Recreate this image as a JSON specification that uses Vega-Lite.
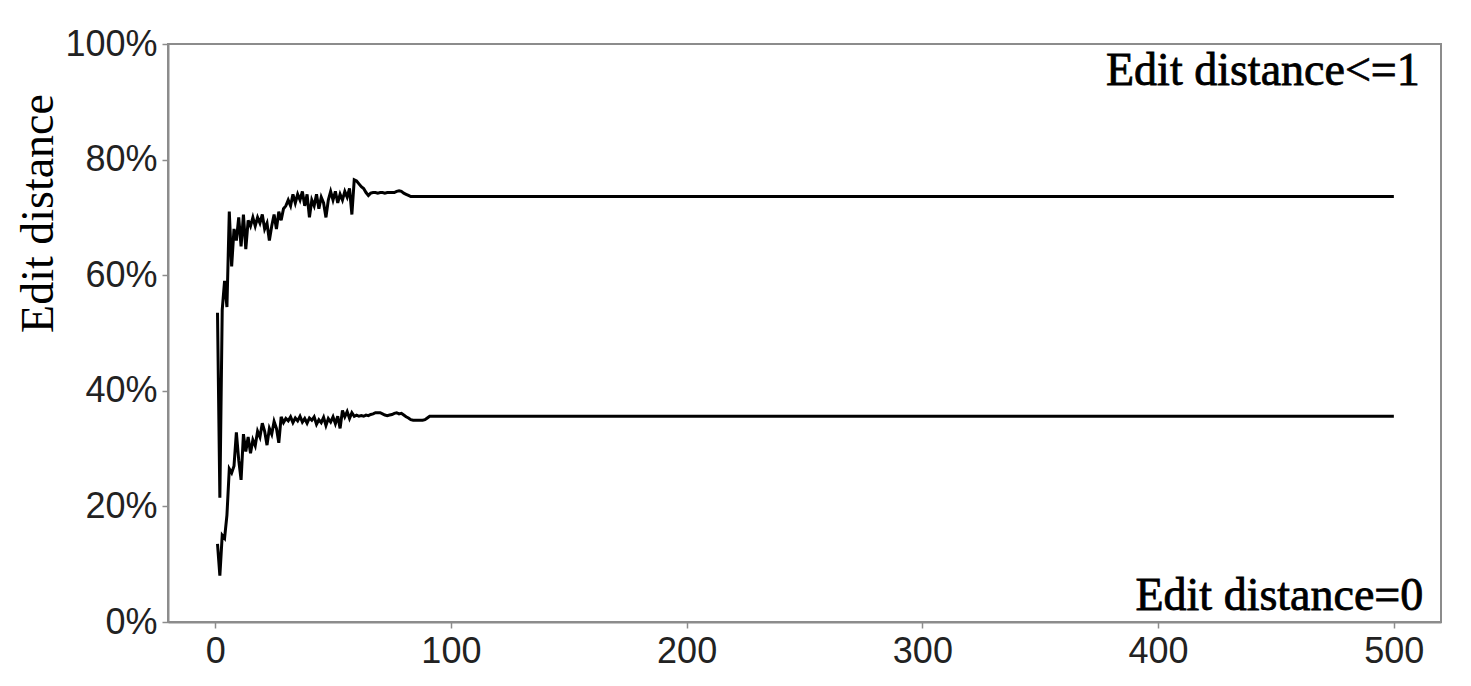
{
  "$schema": "https://vega.github.io/schema/vega-lite/v6.json",
  "width": 1273,
  "height": 578,
  "autosize": {"type": "none"},
  "padding": {"left": 168, "top": 44, "right": 30, "bottom": 64},
  "background": "white",
  "config": {
    "view": {"stroke": "#8c8c8c", "strokeWidth": 2},
    "axis": {"grid": false, "domainColor": "#8c8c8c", "domainWidth": 2, "tickColor": "#8c8c8c", "tickSize": 6, "tickWidth": 1.5,
      "labelFont": "Liberation Sans", "labelFontSize": 36, "labelColor": "#222222"}
  },
  "datasets": {
    "upper": [
      {"n":1,"v":53.5},{"n":2,"v":21.5},{"n":3,"v":54},{"n":4,"v":59},{"n":5,"v":54.5},{"n":6,"v":71},{"n":7,"v":61.5},{"n":8,"v":68},{"n":9,"v":66},{"n":10,"v":70},
      {"n":11,"v":65},{"n":12,"v":70.5},{"n":13,"v":64.5},{"n":14,"v":69.5},{"n":15,"v":68.5},{"n":16,"v":70},{"n":17,"v":68.5},{"n":18,"v":70},{"n":19,"v":69},{"n":20,"v":70.5},
      {"n":21,"v":68},{"n":22,"v":69},{"n":23,"v":66},{"n":24,"v":68.5},{"n":25,"v":70.5},{"n":26,"v":68},{"n":27,"v":71},{"n":28,"v":69.5},{"n":29,"v":71.5},{"n":30,"v":72},
      {"n":31,"v":73},{"n":32,"v":72},{"n":33,"v":74},{"n":34,"v":72.5},{"n":35,"v":74},{"n":36,"v":73},{"n":37,"v":74.5},{"n":38,"v":72},{"n":39,"v":74},{"n":40,"v":70},
      {"n":41,"v":73},{"n":42,"v":72},{"n":43,"v":74},{"n":44,"v":71.5},{"n":45,"v":73.5},{"n":46,"v":72.5},{"n":47,"v":70},{"n":48,"v":73},{"n":49,"v":74.5},{"n":50,"v":73},
      {"n":51,"v":74.5},{"n":52,"v":72.5},{"n":53,"v":74},{"n":54,"v":73},{"n":55,"v":74.5},{"n":56,"v":73.5},{"n":57,"v":75},{"n":58,"v":70.5},{"n":59,"v":76.5},{"n":60,"v":76.3},
      {"n":61,"v":75.8},{"n":62,"v":75.3},{"n":63,"v":75},{"n":64,"v":74.3},{"n":65,"v":73.8},{"n":66,"v":74.2},{"n":67,"v":74.3},{"n":68,"v":74.3},{"n":69,"v":74.2},{"n":70,"v":74.3},
      {"n":71,"v":74.3},{"n":72,"v":74.2},{"n":73,"v":74.3},{"n":74,"v":74.3},{"n":75,"v":74.3},{"n":76,"v":74.3},{"n":77,"v":74.5},{"n":78,"v":74.6},{"n":79,"v":74.5},{"n":80,"v":74.2},
      {"n":81,"v":74},{"n":82,"v":73.8},{"n":83,"v":73.6},{"n":500,"v":73.6}
    ],
    "lower": [
      {"n":1,"v":13.5},{"n":2,"v":8},{"n":3,"v":15},{"n":4,"v":14.5},{"n":5,"v":18.5},{"n":6,"v":26.5},{"n":7,"v":25.8},{"n":8,"v":27},{"n":9,"v":32.8},{"n":10,"v":28},
      {"n":11,"v":24.6},{"n":12,"v":32.5},{"n":13,"v":29.5},{"n":14,"v":32},{"n":15,"v":29.2},{"n":16,"v":31.5},{"n":17,"v":30.5},{"n":18,"v":33},{"n":19,"v":32},{"n":20,"v":34.4},
      {"n":21,"v":33},{"n":22,"v":30.6},{"n":23,"v":33.5},{"n":24,"v":32.5},{"n":25,"v":34.7},{"n":26,"v":33.5},{"n":27,"v":31},{"n":28,"v":35.5},{"n":29,"v":34.5},{"n":30,"v":35.2},
      {"n":31,"v":34.8},{"n":32,"v":35.5},{"n":33,"v":34.5},{"n":34,"v":35.3},{"n":35,"v":34.8},{"n":36,"v":35.6},{"n":37,"v":34.6},{"n":38,"v":35.2},{"n":39,"v":34.4},{"n":40,"v":35.3},
      {"n":41,"v":34.9},{"n":42,"v":35.5},{"n":43,"v":34.2},{"n":44,"v":35},{"n":45,"v":34.5},{"n":46,"v":35.4},{"n":47,"v":34},{"n":48,"v":35.2},{"n":49,"v":34.6},{"n":50,"v":35.5},
      {"n":51,"v":34.3},{"n":52,"v":35.6},{"n":53,"v":33.5},{"n":54,"v":36.6},{"n":55,"v":35.5},{"n":56,"v":36.4},{"n":57,"v":35.2},{"n":58,"v":36.2},{"n":59,"v":35.6},{"n":60,"v":35.8},
      {"n":61,"v":35.6},{"n":62,"v":35.7},{"n":63,"v":35.6},{"n":64,"v":35.8},{"n":65,"v":35.7},{"n":66,"v":35.9},{"n":67,"v":36},{"n":68,"v":36.2},{"n":69,"v":36.2},{"n":70,"v":36.2},
      {"n":71,"v":36},{"n":72,"v":35.8},{"n":73,"v":35.7},{"n":74,"v":35.8},{"n":75,"v":35.9},{"n":76,"v":36.1},{"n":77,"v":36.2},{"n":78,"v":36},{"n":79,"v":36.1},{"n":80,"v":35.8},
      {"n":81,"v":35.5},{"n":82,"v":35.3},{"n":83,"v":35},{"n":84,"v":34.9},{"n":85,"v":34.9},{"n":86,"v":34.9},{"n":87,"v":34.9},{"n":88,"v":34.9},{"n":89,"v":35},{"n":90,"v":35.3},
      {"n":91,"v":35.6},{"n":500,"v":35.6}
    ],
    "labels": [
      {"label":"Edit distance<=1","n":511,"v":92.9},
      {"label":"Edit distance=0","n":512.5,"v":2.1}
    ]
  },
  "layer": [
    {
      "data": {"name": "upper"},
      "mark": {"type": "line", "color": "black", "strokeWidth": 3},
      "encoding": {
        "x": {"field": "n", "type": "quantitative", "scale": {"domain": [-20, 520], "nice": false, "zero": false},
          "axis": {"values": [0, 100, 200, 300, 400, 500], "title": null, "labelPadding": 6}},
        "y": {"field": "v", "type": "quantitative", "scale": {"domain": [0, 100], "nice": false},
          "axis": {"values": [0, 20, 40, 60, 80, 100], "labelExpr": "datum.value + '%'", "labelPadding": 5,
            "title": "Edit distance", "titleFont": "Liberation Serif", "titleFontSize": 46, "titleFontWeight": "normal", "titleColor": "black",
            "titleAngle": 270, "titleX": -116, "titleY": 169, "titleAlign": "center", "titleBaseline": "alphabetic"}}
      }
    },
    {
      "data": {"name": "lower"},
      "mark": {"type": "line", "color": "black", "strokeWidth": 3},
      "encoding": {
        "x": {"field": "n", "type": "quantitative"},
        "y": {"field": "v", "type": "quantitative"}
      }
    },
    {
      "data": {"name": "labels"},
      "mark": {"type": "text", "align": "right", "baseline": "alphabetic", "font": "Liberation Serif", "fontSize": 46, "color": "black", "stroke": "black", "strokeWidth": 0.8},
      "encoding": {
        "x": {"field": "n", "type": "quantitative"},
        "y": {"field": "v", "type": "quantitative"},
        "text": {"field": "label"}
      }
    }
  ]
}
